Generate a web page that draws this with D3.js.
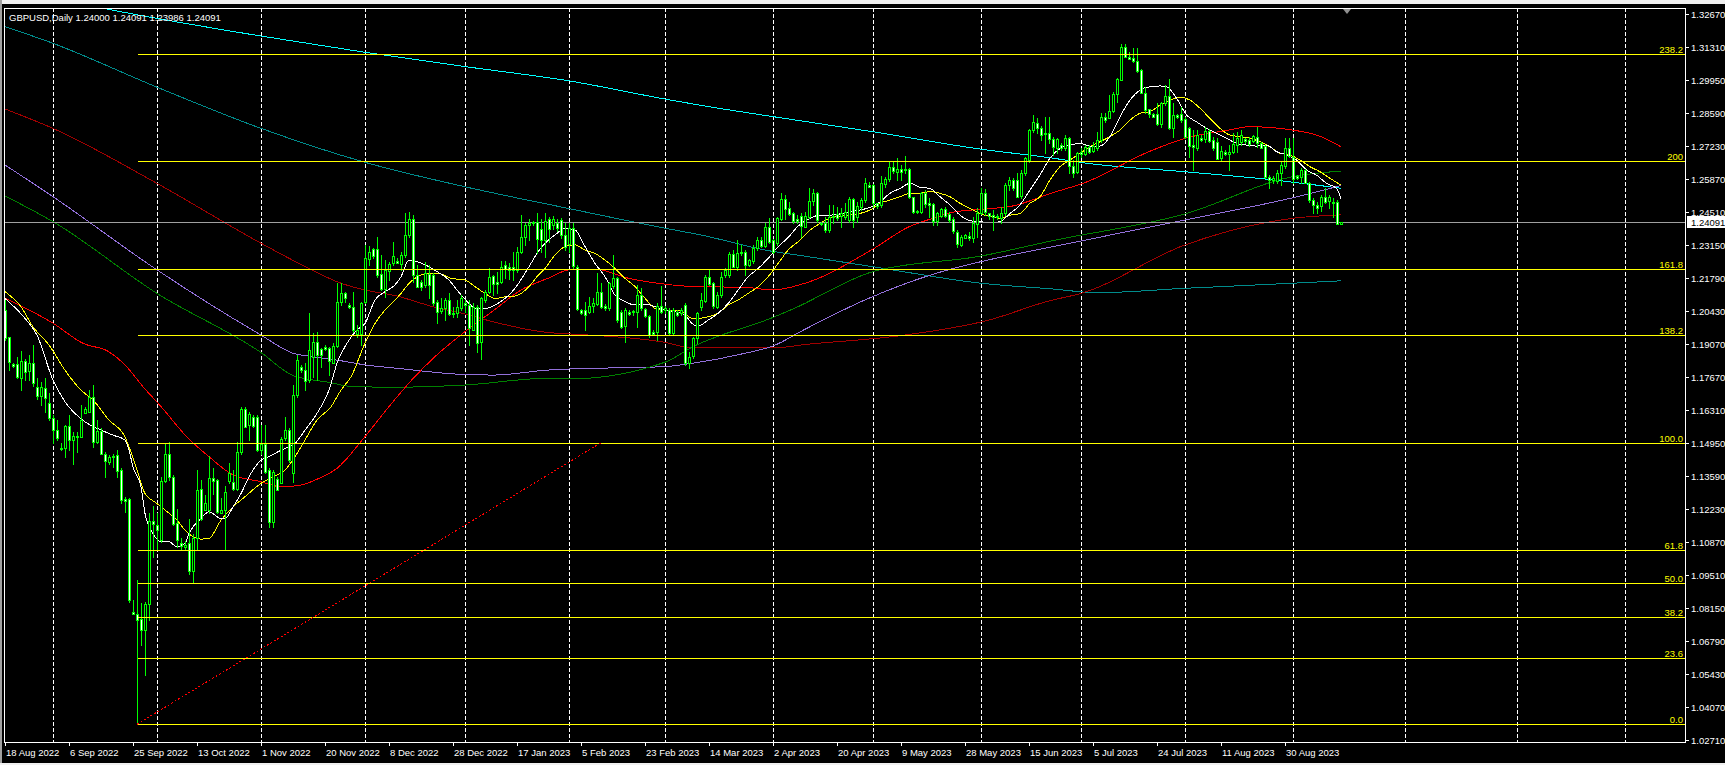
<!DOCTYPE html>
<html lang="en">
<head>
<meta charset="UTF-8">
<title>GBPUSD Daily</title>
<script src="https://d3js.org/d3.v7.min.js"></script>
<style>
  body { margin: 0; background: #000; overflow: hidden; }
  svg { display: block; }
  text { font-family: "Liberation Sans", Arial, sans-serif; font-size: 9.5px; }
</style>
</head>
<body>
<script>
// daily bars (Sunday sessions included)
const opens = [1.2045,1.1935,1.1822,1.1822,1.1766,1.1835,1.1791,1.1825,1.1726,1.1687,1.1722,1.1660,1.1598,1.1550,1.1477,1.1474,1.1568,1.1511,1.1526,1.1522,1.1621,1.1625,1.1687,1.1502,1.1546,1.1453,1.1415,1.1445,1.1447,1.1385,1.1265,1.1265,1.0800,1.0793,1.0772,1.0727,1.0834,1.1176,1.1158,1.1096,1.1343,1.1453,1.1357,1.1165,1.1082,1.1068,1.1082,1.0965,1.1103,1.1305,1.1220,1.1220,1.1354,1.1343,1.1209,1.1220,1.1337,1.1337,1.1309,1.1460,1.1639,1.1570,1.1602,1.1602,1.1467,1.1492,1.1385,1.1171,1.1350,1.1333,1.1515,1.1550,1.1371,1.1694,1.1811,1.1798,1.1756,1.1853,1.1915,1.1883,1.1894,1.1887,1.1828,1.1897,1.2077,1.2114,1.2066,1.2057,1.1946,1.1949,1.2076,1.2259,1.2296,1.2296,1.2194,1.2131,1.2207,1.2238,1.2249,1.2235,1.2272,1.2355,1.2420,1.2190,1.2162,1.2149,1.2194,1.2190,1.2080,1.2038,1.2052,1.2087,1.2029,1.2032,1.2052,1.2076,1.2066,1.1966,1.2059,1.1911,1.2087,1.2121,1.2186,1.2162,1.2158,1.2231,1.2224,1.2221,1.2213,1.2286,1.2348,1.2396,1.2406,1.2410,1.2378,1.2334,1.2419,1.2396,1.2403,1.2417,1.2355,1.2314,1.2382,1.2224,1.2045,1.2045,1.2038,1.2062,1.2073,1.2121,1.2062,1.2052,1.2142,1.2176,1.2038,1.1977,1.2038,1.2035,1.2038,1.2107,1.2048,1.2021,1.1956,1.1956,1.2063,1.2042,1.2045,1.1949,1.2038,1.2032,1.2066,1.1828,1.1853,1.1928,1.2059,1.2084,1.2183,1.2155,1.2059,1.2107,1.2190,1.2190,1.2277,1.2224,1.2282,1.2286,1.2231,1.2245,1.2300,1.2334,1.2310,1.2389,1.2334,1.2321,1.2420,1.2502,1.2465,1.2444,1.2420,1.2433,1.2389,1.2430,1.2492,1.2527,1.2406,1.2403,1.2376,1.2428,1.2441,1.2430,1.2430,1.2417,1.2502,1.2430,1.2469,1.2499,1.2561,1.2561,1.2486,1.2479,1.2565,1.2585,1.2634,1.2614,1.2627,1.2623,1.2627,1.2510,1.2454,1.2451,1.2530,1.2488,1.2483,1.2414,1.2434,1.2462,1.2441,1.2420,1.2369,1.2314,1.2344,1.2351,1.2345,1.2403,1.2444,1.2527,1.2444,1.2437,1.2427,1.2423,1.2444,1.2561,1.2582,1.2582,1.2513,1.2609,1.2664,1.2788,1.2816,1.2795,1.2774,1.2774,1.2750,1.2712,1.2726,1.2712,1.2754,1.2640,1.2616,1.2699,1.2692,1.2719,1.2703,1.2712,1.2747,1.2843,1.2840,1.2868,1.2937,1.2997,1.3132,1.3091,1.3084,1.3073,1.3036,1.2942,1.2873,1.2854,1.2854,1.2813,1.2898,1.2928,1.2795,1.2850,1.2854,1.2832,1.2795,1.2726,1.2712,1.2754,1.2750,1.2785,1.2747,1.2740,1.2671,1.2699,1.2689,1.2699,1.2726,1.2740,1.2750,1.2747,1.2744,1.2761,1.2736,1.2722,1.2595,1.2585,1.2579,1.2609,1.2637,1.2712,1.2678,1.2598,1.2595,1.2623,1.2571,1.2499,1.2479,1.2475,1.2513,1.2496,1.2492,1.2492,1.24000];
const highs = [1.2086,1.1935,1.1825,1.1853,1.1877,1.1842,1.1859,1.1901,1.1763,1.1749,1.1763,1.1701,1.1612,1.1591,1.1497,1.1570,1.1612,1.1543,1.1543,1.1653,1.1646,1.1715,1.1736,1.1591,1.1557,1.1460,1.1447,1.1451,1.1467,1.1392,1.1275,1.1268,1.0848,1.0931,1.0837,1.0841,1.1206,1.1236,1.1206,1.1357,1.1495,1.1499,1.1364,1.1226,1.1103,1.1093,1.1181,1.1123,1.1385,1.1346,1.1281,1.1442,1.1392,1.1350,1.1268,1.1319,1.1415,1.1385,1.1502,1.1646,1.1646,1.1625,1.1612,1.1612,1.1570,1.1570,1.1392,1.1387,1.1357,1.1522,1.1605,1.1557,1.1736,1.1859,1.1818,1.1825,1.2032,1.1949,1.1956,1.1887,1.1901,1.1894,1.1908,1.2155,1.2155,1.2121,1.2073,1.2121,1.1983,1.2080,1.2314,1.2310,1.2300,1.2345,1.2272,1.2252,1.2245,1.2327,1.2259,1.2286,1.2447,1.2450,1.2437,1.2231,1.2169,1.2245,1.2231,1.2197,1.2087,1.2094,1.2094,1.2114,1.2059,1.2087,1.2107,1.2087,1.2087,1.2073,1.2066,1.2100,1.2128,1.2217,1.2190,1.2204,1.2249,1.2249,1.2238,1.2286,1.2307,1.2437,1.2403,1.2420,1.2414,1.2447,1.2420,1.2447,1.2431,1.2435,1.2420,1.2424,1.2403,1.2403,1.2403,1.2231,1.2049,1.2080,1.2100,1.2093,1.2197,1.2155,1.2069,1.2162,1.2272,1.2183,1.2045,1.2052,1.2045,1.2045,1.2149,1.2135,1.2052,1.2025,1.1963,1.2073,1.2144,1.2060,1.2052,1.2052,1.2045,1.2052,1.2073,1.1873,1.1935,1.2038,1.2114,1.2190,1.2210,1.2162,1.2121,1.2204,1.2217,1.2286,1.2293,1.2334,1.2314,1.2293,1.2258,1.2314,1.2348,1.2348,1.2403,1.2424,1.2337,1.2431,1.2527,1.2520,1.2493,1.2451,1.2437,1.2444,1.2451,1.2547,1.2543,1.2534,1.2410,1.2430,1.2479,1.2479,1.2472,1.2465,1.2486,1.2513,1.2506,1.2492,1.2506,1.2589,1.2575,1.2565,1.2488,1.2598,1.2596,1.2658,1.2658,1.2671,1.2644,1.2681,1.2630,1.2513,1.2458,1.2534,1.2541,1.2506,1.2486,1.2451,1.2465,1.2472,1.2451,1.2430,1.2375,1.2355,1.2359,1.2369,1.2430,1.2465,1.2547,1.2543,1.2447,1.2458,1.2440,1.2472,1.2568,1.2596,1.2589,1.2609,1.2623,1.2678,1.2791,1.2850,1.2836,1.2805,1.2843,1.2843,1.2761,1.2754,1.2733,1.2768,1.2761,1.2664,1.2699,1.2712,1.2726,1.2726,1.2740,1.2781,1.2857,1.2857,1.2933,1.2946,1.3001,1.3143,1.3143,1.3112,1.3125,1.3125,1.3039,1.2967,1.2877,1.2860,1.2898,1.2905,1.2974,1.2997,1.2898,1.2854,1.2882,1.2843,1.2799,1.2788,1.2788,1.2767,1.2799,1.2791,1.2761,1.2754,1.2722,1.2705,1.2726,1.2774,1.2781,1.2788,1.2754,1.2761,1.2767,1.2802,1.2740,1.2726,1.2602,1.2598,1.2623,1.2658,1.2754,1.2754,1.2754,1.2602,1.2630,1.2626,1.2575,1.2506,1.2492,1.2520,1.2547,1.2520,1.2506,1.2499,1.24091];
const lows = [1.1921,1.1797,1.1811,1.1763,1.1715,1.1756,1.1756,1.1731,1.1680,1.1653,1.1625,1.1591,1.1497,1.1511,1.1467,1.1440,1.1467,1.1408,1.1460,1.1522,1.1619,1.1625,1.1481,1.1495,1.1453,1.1357,1.1412,1.1398,1.1357,1.1250,1.1213,1.0841,1.0790,1.0339,1.0662,1.0541,1.0766,1.1027,1.1054,1.1089,1.1337,1.1343,1.1158,1.1068,1.1061,1.1054,1.0958,1.0924,1.1061,1.1178,1.1220,1.1206,1.1288,1.1206,1.1209,1.1061,1.1330,1.1302,1.1302,1.1453,1.1563,1.1508,1.1563,1.1464,1.1453,1.1371,1.1151,1.1151,1.1302,1.1330,1.1508,1.1419,1.1337,1.1687,1.1791,1.1715,1.1749,1.1770,1.1756,1.1811,1.1880,1.1777,1.1825,1.1894,1.2066,1.2080,1.2052,1.1956,1.1935,1.1901,1.2073,1.2231,1.2259,1.2183,1.2128,1.2100,1.2169,1.2231,1.2238,1.2210,1.2266,1.2348,1.2162,1.2142,1.2128,1.2142,1.2094,1.2066,1.1990,1.2032,1.2004,1.2025,1.2018,1.2018,1.2045,1.2038,1.1901,1.1963,1.1873,1.1842,1.2080,1.2114,1.2107,1.2114,1.2155,1.2176,1.2172,1.2169,1.2203,1.2279,1.2314,1.2334,1.2396,1.2279,1.2286,1.2266,1.2327,1.2380,1.2370,1.2341,1.2293,1.2286,1.2217,1.2045,1.2028,1.1963,1.2032,1.2038,1.2066,1.2052,1.2045,1.2045,1.2135,1.1997,1.1970,1.1915,1.2025,1.2025,1.1977,1.2045,1.2018,1.1935,1.1942,1.1921,1.2032,1.2035,1.1942,1.1942,1.2021,1.2025,1.1818,1.1805,1.1846,1.1908,1.2045,1.2080,1.2149,1.2052,1.2052,1.2100,1.2183,1.2183,1.2221,1.2210,1.2272,1.2190,1.2228,1.2238,1.2293,1.2307,1.2307,1.2321,1.2279,1.2314,1.2417,1.2420,1.2438,1.2403,1.2406,1.2348,1.2387,1.2424,1.2479,1.2410,1.2398,1.2369,1.2369,1.2403,1.2417,1.2389,1.2423,1.2410,1.2389,1.2410,1.2458,1.2492,1.2554,1.2472,1.2465,1.2472,1.2554,1.2579,1.2609,1.2582,1.2582,1.2612,1.2506,1.2444,1.2447,1.2444,1.2472,1.2431,1.2396,1.2396,1.2431,1.2430,1.2410,1.2362,1.2307,1.2310,1.2341,1.2334,1.2327,1.2348,1.2441,1.2437,1.2423,1.2375,1.2420,1.2403,1.2437,1.2541,1.2541,1.2510,1.2506,1.2603,1.2658,1.2781,1.2775,1.2747,1.2692,1.2733,1.2685,1.2692,1.2706,1.2706,1.2609,1.2596,1.2609,1.2678,1.2685,1.2692,1.2699,1.2706,1.2740,1.2822,1.2836,1.2864,1.2905,1.2994,1.3088,1.3084,1.3067,1.3029,1.2940,1.2857,1.2843,1.2840,1.2809,1.2802,1.2891,1.2791,1.2761,1.2836,1.2822,1.2754,1.2678,1.2623,1.2706,1.2744,1.2740,1.2740,1.2706,1.2667,1.2664,1.2685,1.2623,1.2692,1.2699,1.2726,1.2736,1.2722,1.2740,1.2719,1.2712,1.2589,1.2547,1.2568,1.2568,1.2561,1.2630,1.2678,1.2568,1.2585,1.2568,1.2568,1.2492,1.2447,1.2447,1.2455,1.2488,1.2465,1.2430,1.2400,1.23986];
const closes = [1.1928,1.1832,1.1814,1.1770,1.1835,1.1791,1.1825,1.1742,1.1687,1.1726,1.1680,1.1598,1.1550,1.1515,1.1471,1.1566,1.1511,1.1526,1.1522,1.1591,1.1639,1.1687,1.1502,1.1546,1.1453,1.1426,1.1437,1.1440,1.1382,1.1261,1.1258,1.0848,1.0793,1.0768,1.0727,1.0834,1.1176,1.1165,1.1137,1.1341,1.1453,1.1357,1.1165,1.1096,1.1068,1.1075,1.0965,1.1103,1.1302,1.1181,1.1247,1.1354,1.1343,1.1209,1.1222,1.1295,1.1371,1.1309,1.1460,1.1639,1.1566,1.1616,1.1566,1.1467,1.1492,1.1378,1.1171,1.1378,1.1305,1.1515,1.1550,1.1426,1.1694,1.1839,1.1798,1.1754,1.1880,1.1915,1.1860,1.1860,1.1887,1.1832,1.1897,1.2077,1.2114,1.2093,1.2057,1.1963,1.1963,1.2076,1.2259,1.2286,1.2269,1.2190,1.2131,1.2210,1.2235,1.2268,1.2241,1.2272,1.2355,1.2420,1.2190,1.2142,1.2142,1.2197,1.2149,1.2073,1.2038,1.2052,1.2087,1.2029,1.2035,1.2057,1.2094,1.2066,1.1970,1.2059,1.1911,1.2094,1.2121,1.2183,1.2155,1.2155,1.2221,1.2213,1.2213,1.2210,1.2286,1.2348,1.2396,1.2406,1.2410,1.2341,1.2334,1.2414,1.2376,1.2420,1.2383,1.2355,1.2307,1.2382,1.2224,1.2052,1.2032,1.2025,1.2062,1.2073,1.2121,1.2059,1.2052,1.2155,1.2176,1.2004,1.1977,1.2045,1.2029,1.2041,1.2107,1.2052,1.2021,1.1942,1.1946,1.2063,1.2038,1.2052,1.1949,1.2045,1.2025,1.2045,1.1825,1.1853,1.1928,1.2032,1.2087,1.2183,1.2155,1.2059,1.2107,1.2183,1.2210,1.2277,1.2224,1.2282,1.2285,1.2231,1.2252,1.2300,1.2334,1.2310,1.2389,1.2327,1.2286,1.2424,1.2502,1.2461,1.2442,1.2410,1.2410,1.2392,1.2433,1.2495,1.2527,1.2414,1.2401,1.2373,1.2430,1.2433,1.2423,1.2444,1.2451,1.2502,1.2417,1.2475,1.2499,1.2568,1.2554,1.2486,1.2472,1.2568,1.2585,1.2634,1.2616,1.2627,1.2616,1.2627,1.2510,1.2447,1.2451,1.2530,1.2486,1.2479,1.2414,1.2447,1.2462,1.2433,1.2417,1.2369,1.2318,1.2348,1.2355,1.2341,1.2406,1.2447,1.2527,1.2447,1.2430,1.2427,1.2433,1.2444,1.2561,1.2582,1.2547,1.2513,1.2609,1.2671,1.2788,1.2823,1.2795,1.2768,1.2768,1.2750,1.2717,1.2750,1.2712,1.2754,1.2637,1.2612,1.2695,1.2689,1.2719,1.2699,1.2722,1.2747,1.2843,1.2829,1.2868,1.2937,1.2997,1.3132,1.3091,1.3084,1.3070,1.3033,1.2942,1.2873,1.2854,1.2843,1.2813,1.2898,1.2928,1.2795,1.2850,1.2840,1.2829,1.2758,1.2719,1.2716,1.2767,1.2744,1.2785,1.2744,1.2712,1.2671,1.2701,1.2689,1.2699,1.2730,1.2754,1.2767,1.2740,1.2730,1.2763,1.2736,1.2716,1.2595,1.2582,1.2592,1.2612,1.2644,1.2712,1.2681,1.2589,1.2589,1.2623,1.2571,1.2499,1.2479,1.2465,1.2513,1.2492,1.2513,1.2488,1.2403,1.24091];

// moving averages, [bar, price]
const maWhite = [[0,1.2093],[5,1.2011],[8,1.1942],[12,1.1756],[15,1.1667],[20,1.1584],[24,1.155],[27,1.1529],[30,1.1509],[31,1.1467],[32,1.1398],[34,1.1316],[35,1.1206],[37,1.1123],[39,1.1089],[41,1.1089],[43,1.1068],[45,1.1082],[46,1.1123],[49,1.1185],[51,1.1213],[54,1.1185],[55,1.1185],[57,1.1233],[59,1.1288],[61,1.1357],[64,1.1426],[66,1.144],[69,1.1467],[71,1.1481],[72.5,1.1495],[75,1.155],[78,1.1619],[81,1.1715],[83,1.1825],[86,1.1921],[88,1.1963],[90,1.199],[92.5,1.2087],[95,1.2121],[97.5,1.2149],[99,1.2183],[101,1.2252],[103,1.2245],[106,1.2224],[108,1.2204],[111,1.2169],[113,1.2128],[116,1.2073],[117.5,1.2052],[120,1.2052],[122.5,1.2066],[125,1.2093],[127.5,1.2135],[131,1.2224],[133,1.2279],[135,1.2321],[137.5,1.2355],[140,1.2382],[142.5,1.2376],[145,1.2307],[147.5,1.2238],[150,1.2183],[152.5,1.2107],[155,1.208],[157.5,1.2066],[160,1.207],[162.5,1.2059],[165,1.2045],[167.5,1.2038],[170,1.2025],[171.7,1.199],[173.3,1.1979],[175.8,1.2004],[178.3,1.2032],[180.8,1.2073],[183.3,1.2128],[185.8,1.2183],[188.3,1.2217],[190.8,1.2259],[193.3,1.2307],[195.8,1.2345],[198.3,1.2392],[201.25,1.2424],[203.75,1.2437],[206.25,1.2437],[208.75,1.2442],[211.25,1.2451],[213.75,1.2458],[216.25,1.2469],[218.75,1.2492],[221.25,1.2527],[223.75,1.2547],[226.25,1.2568],[228.75,1.2552],[231.25,1.2547],[233.75,1.2513],[236.25,1.2479],[238.75,1.2437],[241.25,1.2414],[243.75,1.241],[246.25,1.2406],[248.75,1.241],[251.25,1.2444],[253.75,1.2479],[256.25,1.2541],[258.75,1.2603],[261.25,1.2672],[263.75,1.2712],[266.25,1.2726],[268.75,1.2733],[271.25,1.2722],[273.75,1.2722],[276.25,1.2761],[278.75,1.2843],[281.25,1.2912],[283.75,1.2953],[286.25,1.2967],[288.75,1.297],[290.4,1.2967],[292.9,1.2919],[295.4,1.285],[297.9,1.2822],[300.4,1.2795],[302.9,1.2774],[305.4,1.2754],[307.9,1.2733],[310.4,1.2726],[312.9,1.2722],[315.4,1.2726],[317.9,1.2699],[320.4,1.2685],[322.9,1.2664],[325.4,1.2623],[327.9,1.2602],[330.4,1.2568],[332.9,1.2547],[334,1.2506]];
const maYellow = [[0,1.2121],[4,1.2059],[7,1.1976],[11,1.1901],[15,1.1797],[19,1.1715],[22,1.1674],[26,1.1591],[30,1.1522],[31,1.1481],[33,1.1385],[35,1.1288],[38,1.1247],[40,1.122],[43,1.1178],[45,1.1137],[47,1.111],[49,1.11],[51,1.1103],[54,1.1178],[57,1.1233],[60,1.1275],[64,1.133],[67,1.1357],[70,1.1385],[72.5,1.144],[75,1.1509],[78,1.1591],[81.5,1.1646],[84,1.1715],[86.5,1.177],[90,1.1908],[92.5,1.199],[95,1.2045],[97.5,1.2087],[99,1.2114],[101,1.2155],[102.5,1.2176],[104,1.219],[106.5,1.2197],[109,1.2194],[111.5,1.2176],[115,1.2169],[117.5,1.2142],[120,1.2114],[122.5,1.2093],[125,1.21],[127.5,1.2103],[131,1.2142],[133,1.2183],[135,1.2217],[137.5,1.2272],[140,1.2307],[142.5,1.2314],[145,1.2293],[147.5,1.2279],[150,1.2252],[152.5,1.2217],[155,1.2176],[157.5,1.2142],[160,1.2094],[162.5,1.2052],[165,1.2045],[167.5,1.2045],[170,1.2032],[171.7,1.2011],[173.3,1.2011],[175.8,1.2018],[178.3,1.2032],[180.8,1.2066],[183.3,1.2087],[185.8,1.2114],[188.3,1.2142],[190.8,1.2183],[193.3,1.2238],[195.8,1.2293],[198.75,1.2334],[201.25,1.2375],[203.75,1.2403],[206.25,1.2424],[208.75,1.2433],[211.25,1.2437],[213.75,1.2444],[216.25,1.2458],[218.75,1.2486],[221.25,1.2499],[223.75,1.2513],[226.25,1.2527],[228.75,1.2527],[231.25,1.2534],[233.75,1.2527],[236.25,1.2513],[238.75,1.2486],[241.25,1.2465],[243.75,1.2444],[246.25,1.2431],[248.75,1.2424],[251.25,1.2437],[253.75,1.2444],[256.25,1.2486],[258.75,1.2513],[261.25,1.2582],[263.75,1.2637],[266.25,1.2664],[268.75,1.2692],[271.25,1.2719],[273.75,1.274],[276.25,1.2761],[278.75,1.2788],[281.25,1.2829],[283.75,1.2857],[286.25,1.2864],[288.75,1.2891],[291.25,1.2912],[293.75,1.2923],[296.25,1.2912],[298.75,1.2878],[301.25,1.2836],[303.75,1.2795],[306.25,1.2767],[308.75,1.2761],[311.25,1.2754],[313.75,1.274],[316.25,1.2719],[318.75,1.2692],[321.25,1.2685],[323.75,1.2664],[326.25,1.2637],[328.75,1.2616],[331.25,1.2589],[334,1.2561]];
const maRed = [[0,1.2094],[12,1.1991],[19.5,1.1908],[26,1.1873],[30,1.1819],[34.5,1.1729],[39,1.1647],[45.4,1.1523],[51,1.144],[57,1.1365],[64,1.1337],[69,1.1316],[74,1.1323],[78,1.1347],[83,1.1392],[90,1.1523],[96,1.1647],[101.7,1.1757],[107.5,1.1853],[115,1.1956],[122.5,1.2048],[129,1.2128],[136,1.2178],[141,1.2211],[147.5,1.2214],[156,1.2176],[165,1.2152],[172.5,1.2142],[185,1.2139],[192,1.2128],[200,1.2156],[217,1.2297],[226,1.2389],[232,1.2424],[237,1.2449],[244,1.2461],[252,1.2475],[262,1.253],[269.5,1.2568],[286,1.2699],[295,1.2754],[306,1.2788],[311,1.2802],[322,1.2788],[329,1.2761],[334,1.2719]];
const maDarkRed = [[0,1.2875],[12,1.2795],[38,1.2568],[64,1.2321],[73,1.2242],[84,1.2156],[90,1.2128],[98,1.2103],[107,1.2059],[115,1.2029],[122,1.1997],[136,1.1952],[141,1.1947],[165,1.1912],[172,1.1889],[192,1.1889],[200,1.1903],[225,1.1942],[246,1.2004],[261,1.2083],[269,1.2114],[295,1.2314],[322,1.2424],[334,1.2438]];
const maPurple = [[0,1.2644],[12,1.2513],[38,1.2211],[64,1.1942],[72,1.1867],[77,1.1853],[84,1.1836],[90,1.1819],[98,1.1805],[115,1.1779],[122,1.1777],[136,1.1798],[141,1.1802],[165,1.1812],[172,1.1826],[185,1.1867],[192,1.1897],[200,1.1966],[215,1.2087],[232,1.2193],[244,1.2245],[262,1.2307],[295,1.2417],[322,1.2509],[334,1.2559]];
const maGreen = [[0,1.2516],[12,1.241],[38,1.2114],[64,1.187],[72,1.1775],[81,1.1747],[87,1.1729],[98,1.1727],[115,1.1736],[136,1.1764],[141,1.1761],[165,1.183],[172,1.1894],[192,1.2015],[200,1.2073],[202,1.209],[217,1.2204],[244,1.2268],[262,1.2332],[295,1.2442],[322,1.2596],[334,1.2619]];
const maTeal = [[0,1.3215],[12,1.3146],[38,1.2965],[64,1.2795],[90,1.2655],[115,1.2554],[141,1.2464],[165,1.2383],[174,1.2355],[191,1.229],[199,1.227],[217,1.2224],[244,1.2156],[262,1.2132],[273,1.2117],[295,1.2135],[322,1.2156],[334,1.2166]];
const maCyan = [[0,1.338],[26,1.3286],[64,1.3176],[90,1.3109],[115,1.305],[141,1.2991],[165,1.2916],[174,1.289],[199,1.2826],[217,1.2781],[244,1.2709],[262,1.2672],[269.5,1.2653],[295,1.2616],[315.5,1.2585],[334,1.2548]];

// fibonacci retracement
const fibLevels = [0, 23.6, 38.2, 50.0, 61.8, 100.0, 138.2, 161.8, 200, 238.2];
const fibLabels = ["0.0", "23.6", "38.2", "50.0", "61.8", "100.0", "138.2", "161.8", "200", "238.2"];
const fibFrom = { bar: 33, price: 1.0336 };
const fibTo = { bar: 149, price: 1.1498 };

// axes
const priceTicks = [1.32670, 1.31310, 1.29950, 1.28590, 1.27230, 1.25870, 1.24510, 1.23150, 1.21790, 1.20430, 1.19070, 1.17670, 1.16310, 1.14950, 1.13590, 1.12230, 1.10870, 1.09510, 1.08150, 1.06790, 1.05430, 1.04070, 1.02710];
const dateLabels = ["18 Aug 2022", "6 Sep 2022", "25 Sep 2022", "13 Oct 2022", "1 Nov 2022", "20 Nov 2022", "8 Dec 2022", "28 Dec 2022", "17 Jan 2023", "5 Feb 2023", "23 Feb 2023", "14 Mar 2023", "2 Apr 2023", "20 Apr 2023", "9 May 2023", "28 May 2023", "15 Jun 2023", "5 Jul 2023", "24 Jul 2023", "11 Aug 2023", "30 Aug 2023"];
const barsPerLabel = 16;
const monthStartBars = [12, 38, 64, 90, 115, 141, 165, 192, 217, 244, 269, 295, 322, 350, 378, 405];
const lastPrice = 1.24091;
const title = "GBPUSD,Daily  1.24000 1.24091 1.23986 1.24091";

const width = 1725, height = 765;
const cL = 4, cT = 8, cR = 1685, cB = 742;

const x = d3.scaleLinear().domain([0, 420]).range([5, 1685]);
const y = d3.scaleLinear().domain([1.0271, 1.3267]).range([740, 14]);
const px = v => Math.round(v) + 0.5;

const svg = d3.select("body").append("svg")
    .attr("width", width)
    .attr("height", height)
    .style("background", "#000");

// window frame
svg.append("rect").attr("x", 0).attr("y", 0).attr("width", width).attr("height", 4).attr("fill", "#f0f0f0");
svg.append("rect").attr("x", 0).attr("y", 0).attr("width", 2).attr("height", height).attr("fill", "#a0a0a0");
svg.append("rect").attr("x", 0).attr("y", 763).attr("width", width).attr("height", 2).attr("fill", "#f0f0f0");

svg.append("clipPath").attr("id", "plot")
  .append("rect").attr("x", cL + 1).attr("y", cT + 1).attr("width", cR - cL - 1).attr("height", cB - cT - 1);

const g = svg.append("g").attr("clip-path", "url(#plot)").attr("shape-rendering", "crispEdges");

// month grid
g.selectAll(".grid").data(monthStartBars).enter().append("line")
    .attr("x1", d => px(x(d))).attr("x2", d => px(x(d)))
    .attr("y1", cT).attr("y2", cB)
    .attr("stroke", "#fff").attr("stroke-dasharray", "4,2");

// moving averages
const line = d3.line().x(d => x(d[0])).y(d => y(d[1])).curve(d3.curveMonotoneX);
const mas = [
  [maCyan, "#00ffff"], [maTeal, "#008b8b"], [maDarkRed, "#a00000"], [maPurple, "#9370db"],
  [maGreen, "#008000"], [maRed, "#ff0000"], [maYellow, "#ffff00"], [maWhite, "#ffffff"]
];
mas.forEach(([pts, color]) => {
  g.append("path").attr("d", line(pts)).attr("fill", "none").attr("stroke", color).attr("stroke-width", 1);
});

// last price line
g.append("line").attr("x1", cL).attr("x2", cR)
    .attr("y1", px(y(lastPrice))).attr("y2", px(y(lastPrice)))
    .attr("stroke", "#a0a0a0");

// candles
const bars = opens.map((o, i) => ({ i, o, h: highs[i], l: lows[i], c: closes[i] }));
const candle = g.selectAll(".candle").data(bars).enter().append("g");
candle.append("line")
    .attr("x1", d => px(x(d.i))).attr("x2", d => px(x(d.i)))
    .attr("y1", d => Math.round(y(d.h))).attr("y2", d => Math.round(y(d.l)) + 1)
    .attr("stroke", "#00ff00");
candle.append("rect")
    .attr("x", d => Math.round(x(d.i)) - 0.5)
    .attr("y", d => px(y(Math.max(d.o, d.c))))
    .attr("width", 2)
    .attr("height", d => Math.round(Math.abs(y(d.o) - y(d.c))))
    .attr("fill", d => d.c >= d.o ? "#000" : "#fff")
    .attr("stroke", "#00ff00");

// fibonacci levels
const fibPrice = lv => fibFrom.price + (fibTo.price - fibFrom.price) * lv / 100;
g.selectAll(".fib").data(fibLevels).enter().append("line")
    .attr("x1", px(x(fibFrom.bar))).attr("x2", cR)
    .attr("y1", d => px(y(fibPrice(d)))).attr("y2", d => px(y(fibPrice(d))))
    .attr("stroke", "#ffff00");
g.selectAll(".fibtxt").data(fibLevels).enter().append("text")
    .attr("x", cR - 2).attr("y", d => Math.round(y(fibPrice(d))) - 1)
    .attr("text-anchor", "end").attr("fill", "#ffff00")
    .text((d, i) => fibLabels[i]);
g.append("line")
    .attr("x1", x(fibFrom.bar)).attr("y1", y(fibFrom.price))
    .attr("x2", x(fibTo.bar)).attr("y2", y(fibTo.price))
    .attr("stroke", "#ff0000").attr("stroke-dasharray", "2,2");

// frame
svg.append("path")
    .attr("d", `M${cL + 0.5},${cT + 0.5}H${cR + 0.5}V${cB + 0.5}H${cL + 0.5}Z`)
    .attr("fill", "none").attr("stroke", "#fff").attr("shape-rendering", "crispEdges");

// price axis
const pa = svg.append("g").attr("shape-rendering", "crispEdges");
pa.selectAll("line").data(priceTicks).enter().append("line")
    .attr("x1", cR + 1).attr("x2", cR + 4)
    .attr("y1", d => px(y(d))).attr("y2", d => px(y(d)))
    .attr("stroke", "#fff");
pa.selectAll("text").data(priceTicks).enter().append("text")
    .attr("x", cR + 6).attr("y", d => Math.round(y(d)) + 4)
    .attr("fill", "#fff").text(d => d.toFixed(5));
pa.append("rect").attr("x", cR + 2).attr("y", Math.round(y(lastPrice)) - 6)
    .attr("width", 40).attr("height", 12).attr("fill", "#fff");
pa.append("text").attr("x", cR + 6).attr("y", Math.round(y(lastPrice)) + 4)
    .attr("fill", "#000").text(lastPrice.toFixed(5));

// time axis
const ta = svg.append("g").attr("shape-rendering", "crispEdges");
ta.selectAll("line").data(dateLabels).enter().append("line")
    .attr("x1", (d, i) => px(x(i * barsPerLabel))).attr("x2", (d, i) => px(x(i * barsPerLabel)))
    .attr("y1", cB).attr("y2", cB + 4)
    .attr("stroke", "#fff");
ta.selectAll("text").data(dateLabels).enter().append("text")
    .attr("x", (d, i) => Math.round(x(i * barsPerLabel)) + 1).attr("y", cB + 14)
    .attr("fill", "#fff").text(d => d);

// chart shift marker
svg.append("path")
    .attr("d", `M${x(335.5) - 4},${cT + 1}h8l-4,5Z`)
    .attr("fill", "#909090");

// title
svg.append("text").attr("x", 9).attr("y", 21).attr("fill", "#fff").text(title);
</script>
</body>
</html>
